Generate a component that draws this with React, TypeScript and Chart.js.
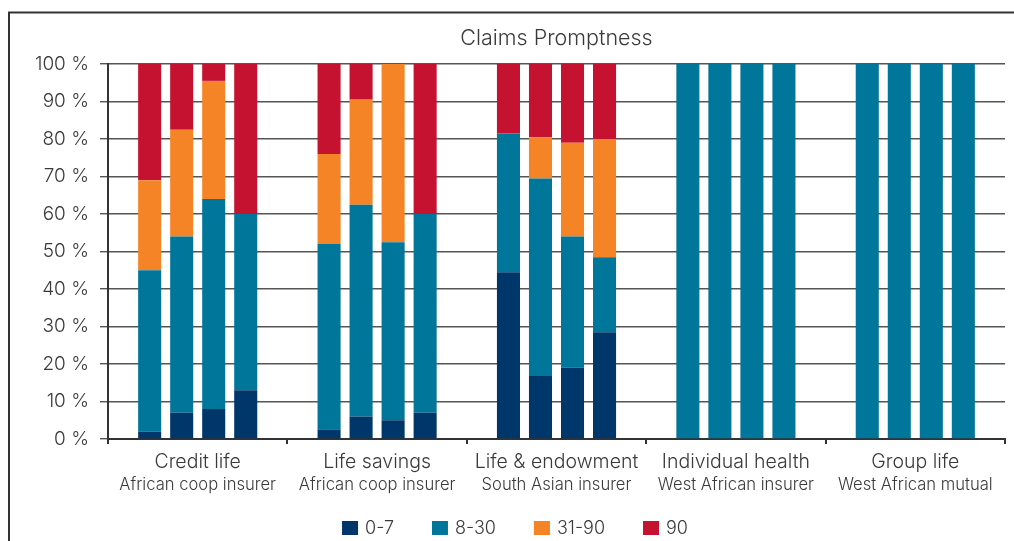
import React, { useEffect, useRef } from 'react';
import { Chart, registerables } from 'chart.js';

Chart.register(...registerables);

// ---- Data ----
const groupNames = ['Credit life', 'Life savings', 'Life & endowment', 'Individual health', 'Group life'];
const insurerNames = ['African coop insurer', 'African coop insurer', 'South Asian insurer', 'West African insurer', 'West African mutual'];
const seriesNames = ['0-7', '8-30', '31-90', '90'];
const seriesColors = ['#00376A', '#00769A', '#F58427', '#C41230'];
const yTickValues = [0, 10, 20, 30, 40, 50, 60, 70, 80, 90, 100];

// Each array: one row per bar position (1..4) within a group, one value per group (%)
const days0to7 = [
  [2, 2.5, 44.5, 0, 0],
  [7, 6, 17, 0, 0],
  [8, 5, 19, 0, 0],
  [13, 7, 28.5, 0, 0],
];
const days8to30 = [
  [43, 49.5, 37, 100, 100],
  [47, 56.5, 52.5, 100, 100],
  [56, 47.5, 35, 100, 100],
  [47, 53, 20, 100, 100],
];
const days31to90 = [
  [24, 24, 0, 0, 0],
  [28.5, 28, 11, 0, 0],
  [31.5, 47.5, 25, 0, 0],
  [0, 0, 31.5, 0, 0],
];
const days90 = [
  [31, 24, 18.5, 0, 0],
  [17.5, 9.5, 19.5, 0, 0],
  [4.5, 0, 21, 0, 0],
  [40, 40, 20, 0, 0],
];
const seriesData = [days0to7, days8to30, days31to90, days90];

const FONT = "Inter, 'Liberation Sans', Arial, sans-serif";
const TEXT = '#3a3a3a';

const decorPlugin = {
  id: 'decor',
  afterDraw(chart: any) {
    const { ctx, chartArea } = chart;
    const xs = chart.scales.x;
    ctx.save();
    // frame
    ctx.strokeStyle = '#333';
    ctx.lineWidth = 2;
    ctx.beginPath();
    ctx.moveTo(9, chart.height);
    ctx.lineTo(9, 12.5);
    ctx.lineTo(chart.width, 12.5);
    ctx.stroke();

    // title
    ctx.fillStyle = TEXT;
    ctx.textAlign = 'center';
    ctx.textBaseline = 'alphabetic';
    ctx.font = `300 21.5px ${FONT}`;
    ctx.fillText('Claims Promptness', (chartArea.left + chartArea.right) / 2, 44.5);

    // category labels
    groupNames.forEach((g, i) => {
      const x = xs.getPixelForValue(i);
      ctx.font = `300 19.5px ${FONT}`;
      ctx.fillText(g, x, 468);
      ctx.font = `300 16.6px ${FONT}`;
      ctx.fillText(insurerNames[i], x, 490);
    });

    // legend
    ctx.font = `300 18px ${FONT}`;
    const box = 16, gapText = 7, gapItem = 38;
    const widths = seriesNames.map((n) => ctx.measureText(n).width);
    const total = widths.reduce((a, w) => a + box + gapText + w, 0) + gapItem * (seriesNames.length - 1);
    let lx = 515 - total / 2;
    const ly = 528;
    ctx.textAlign = 'left';
    ctx.textBaseline = 'middle';
    seriesNames.forEach((n, i) => {
      ctx.fillStyle = seriesColors[i];
      ctx.fillRect(lx, ly - 7, box, 14);
      ctx.fillStyle = TEXT;
      ctx.fillText(n, lx + box + gapText, ly + 1);
      lx += box + gapText + widths[i] + gapItem;
    });
    ctx.restore();
  },
};

export default function App() {
  const ref = useRef<HTMLCanvasElement>(null);

  useEffect(() => {
    if (!ref.current) return;
    const datasets: any[] = [];
    seriesData.forEach((series, s) => {
      series.forEach((row, b) => {
        datasets.push({
          label: seriesNames[s],
          data: row,
          backgroundColor: seriesColors[s],
          borderWidth: 0,
          stack: 'bar' + b,
          categoryPercentage: 0.714,
          barPercentage: 0.72,
        });
      });
    });

    const chart = new Chart(ref.current, {
      type: 'bar',
      data: { labels: groupNames, datasets },
      plugins: [decorPlugin],
      options: {
        animation: false,
        responsive: false,
        devicePixelRatio: 1,
        layout: { padding: { top: 64, right: 9, left: 0, bottom: 0 } },
        plugins: {
          legend: { display: false },
          title: { display: false },
          tooltip: { enabled: false },
        },
        scales: {
          x: {
            stacked: true,
            ticks: { display: false },
            grid: {
              drawOnChartArea: false,
              drawTicks: true,
              tickLength: 5,
              color: '#333',
              lineWidth: 2,
              offset: true,
            },
            border: { display: true, color: '#333', width: 2 },
            afterFit: (s: any) => {
              s.height = 102;
            },
          },
          y: {
            stacked: true,
            min: 0,
            max: 100,
            afterBuildTicks: (s: any) => {
              s.ticks = yTickValues.map((v) => ({ value: v }));
            },
            ticks: {
              callback: (v: any) => v + ' %',
              font: { family: FONT, size: 19, weight: 300 },
              color: TEXT,
              padding: 11,
            },
            grid: { color: '#555', lineWidth: 1.4, tickLength: 8, drawTicks: true },
            border: { display: true, color: '#333', width: 2 },
            afterFit: (s: any) => {
              s.width = 108;
            },
          },
        },
      },
    });
    return () => chart.destroy();
  }, []);

  return (
    <div style={{ position: 'absolute', left: 0, top: 0, width: 1014, height: 541, background: '#fff' }}>
      <canvas ref={ref} width={1014} height={541} style={{ display: 'block' }} />
    </div>
  );
}
